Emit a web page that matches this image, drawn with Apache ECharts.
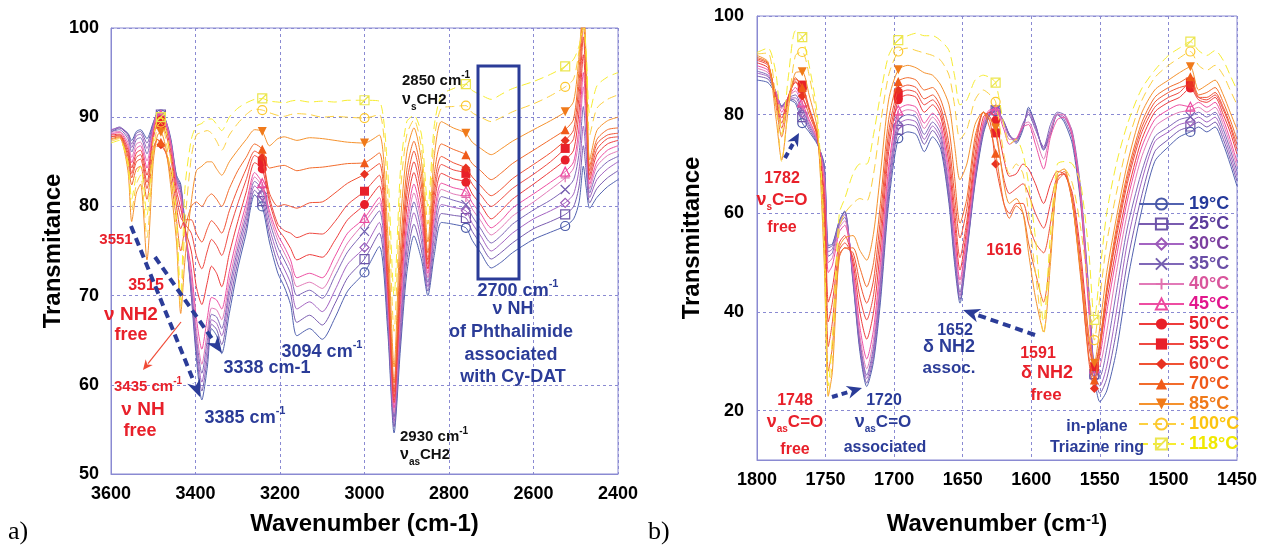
<!DOCTYPE html>
<html><head><meta charset="utf-8">
<script src="https://cdn.jsdelivr.net/npm/echarts@6/dist/echarts.min.js"></script>
<style>html,body{margin:0;padding:0;background:#fff}#c{width:1261px;height:548px}</style>
</head><body><div id="c"></div>
<script>
// ---------------- DATA ----------------
const TEMPS = ['19°C','25°C','30°C','35°C','40°C','45°C','50°C','55°C','60°C','70°C','85°C','100°C','118°C'];

// Panel a) wavenumbers (cm-1)
const L_X = [3600,3580,3560,3551,3540,3530,3515,3500,3490,3482,3470,3458,3445,3435,3425,3410,3398,3385,3372,3362,3350,3338,3320,3300,3280,3260,3242,3225,3205,3190,3175,3160,3130,3100,3070,3040,3000,2965,2945,2930,2915,2900,2883,2865,2850,2835,2818,2790,2760,2745,2725,2700,2675,2650,2600,2560,2525,2505,2492,2482,2475,2467,2450,2425,2400];
const L_MARKS = [3482,3242,3000,2760,2525];

const L19 = [88.3,88.8,88.2,87.4,88.4,88.6,87.6,89.4,90.4,90.3,89.6,87.5,83.5,82.5,78.0,70.0,63.0,58.3,62.0,66.3,65.5,63.5,68.0,73.0,77.0,81.3,80.0,76.0,72.5,71.0,69.0,65.5,66.3,65.1,67.5,70.5,72.6,75.5,66.0,54.6,64.0,72.5,76.7,74.0,70.0,74.5,78.2,78.0,77.6,76.2,74.8,73.1,73.8,74.8,76.3,77.1,77.8,78.6,80.5,84.5,82.0,79.8,81.0,82.2,83.0];
const L25 = [88.5,88.9,88.1,87.0,88.2,88.4,87.1,89.3,90.4,90.3,89.5,87.3,83.3,82.2,77.8,70.4,63.8,59.3,63.0,66.8,66.2,64.5,69.0,73.8,77.7,81.8,80.6,76.8,73.5,72.0,70.2,67.0,67.8,66.7,69.1,72.0,74.1,77.0,67.0,55.3,65.0,73.8,78.0,75.0,70.5,75.5,79.2,79.0,78.7,77.2,75.8,74.1,74.9,75.9,77.5,78.3,79.1,80.0,82.3,86.8,83.8,80.4,82.0,83.2,84.0];
const L30 = [88.6,88.8,87.9,86.6,87.9,88.1,86.5,89.1,90.3,90.2,89.4,87.1,83.1,81.9,77.5,70.8,64.6,60.3,64.0,67.3,66.9,65.5,70.0,74.6,78.4,82.3,81.2,77.6,74.5,73.0,71.4,68.5,69.3,68.2,70.6,73.5,75.4,78.2,67.8,55.9,66.0,75.0,79.3,76.0,71.0,76.5,80.2,79.9,79.5,78.1,76.7,75.0,75.9,77.0,78.6,79.5,80.4,81.4,84.2,89.0,85.5,81.0,83.0,84.2,85.0];
const L35 = [88.4,88.6,87.6,86.1,87.5,87.7,85.9,88.9,90.2,90.1,89.3,86.9,82.9,81.6,77.3,71.3,65.4,61.3,65.0,67.9,67.6,66.3,70.8,75.3,79.0,82.8,81.9,78.4,75.4,74.0,72.5,70.0,70.6,69.7,72.2,74.9,77.2,79.5,68.6,56.4,67.0,76.2,80.5,77.0,71.5,77.5,81.1,80.7,80.2,78.9,77.5,75.9,76.8,78.0,79.6,80.7,81.9,83.0,86.0,91.2,87.2,81.5,83.8,85.0,85.6];
const L40 = [88.3,88.4,87.2,85.5,87.0,87.2,85.1,88.7,90.4,90.3,89.5,87.0,82.7,81.2,77.2,72.0,66.3,62.3,66.0,68.6,68.4,67.3,71.7,76.0,79.6,83.3,82.2,79.0,76.2,74.8,73.3,71.0,71.5,70.8,73.2,75.9,78.2,80.4,69.3,56.9,68.0,77.3,81.5,78.0,72.0,78.3,81.9,81.4,81.0,79.7,78.4,76.8,77.7,78.9,80.5,81.9,83.2,84.3,87.8,93.4,88.8,82.0,84.5,85.7,86.2];
const L45 = [88.1,88.3,86.8,84.9,86.5,86.8,84.3,88.5,90.3,90.2,89.4,86.8,82.5,80.8,77.2,73.0,67.5,64.0,67.5,69.8,69.5,68.5,72.7,76.8,80.3,83.8,82.6,79.5,76.8,75.5,74.0,72.0,72.5,72.0,74.4,77.0,78.7,81.0,70.0,57.4,69.0,78.3,82.5,78.8,72.5,79.0,82.6,82.1,81.7,80.4,79.2,77.6,78.5,79.8,81.4,82.7,83.9,85.0,89.0,95.0,90.0,82.5,85.0,86.3,86.8];
const L50 = [88.0,88.1,86.4,84.3,86.0,86.3,83.5,88.0,89.8,89.7,88.8,86.0,81.8,79.8,77.5,75.0,71.0,69.0,71.5,73.3,72.5,71.0,74.7,78.3,81.6,84.9,84.2,80.5,77.5,76.5,75.3,74.0,74.6,74.3,76.2,78.5,80.2,82.3,71.0,58.0,70.5,79.8,83.8,80.0,73.0,80.2,83.7,83.1,82.7,81.4,80.2,78.6,79.6,80.8,82.5,83.9,85.2,86.3,90.8,97.0,91.5,83.0,85.8,87.0,87.4];
const L55 = [87.8,88.0,86.0,83.7,85.5,85.8,82.7,87.5,89.3,89.2,88.2,85.3,81.0,78.8,78.0,77.0,74.5,73.0,75.0,76.3,75.6,74.5,77.3,80.3,83.0,85.7,85.0,81.0,78.0,77.3,77.0,76.5,77.0,76.9,78.3,80.2,81.7,83.5,72.0,58.6,72.0,81.2,85.0,81.2,73.5,81.2,84.7,84.1,83.7,82.5,81.3,80.0,80.9,82.0,83.6,85.0,86.5,87.6,92.5,99.0,93.0,83.5,86.4,87.6,87.8];
const L60 = [87.8,87.9,85.6,83.2,85.0,85.3,82.0,86.5,87.5,86.9,86.0,84.0,80.0,77.5,78.5,78.5,77.0,76.0,77.5,78.4,77.8,77.0,79.5,82.0,84.2,86.2,85.5,81.5,80.0,80.2,80.0,79.8,80.4,80.5,81.5,82.6,83.6,84.8,73.0,59.2,73.0,82.5,86.2,82.3,74.0,82.2,85.6,84.9,84.3,83.3,82.3,81.2,82.0,83.1,84.7,86.0,87.4,88.6,94.0,100.5,94.0,84.0,87.0,88.0,88.2];
const L70 = [87.6,87.8,85.0,82.4,84.2,84.5,80.8,86.0,87.5,87.2,86.0,83.0,78.5,75.0,77.5,80.0,80.5,80.0,81.0,81.4,80.8,80.0,82.0,84.0,85.5,87.0,86.4,84.3,84.5,84.6,84.3,84.0,84.3,84.4,84.6,84.8,84.9,86.0,74.5,60.2,75.0,84.0,87.3,83.5,74.8,83.5,87.0,86.4,85.8,84.8,84.0,83.0,83.8,84.8,86.3,87.5,88.6,89.8,95.5,102,95.0,84.5,87.5,88.6,88.8];
const L85 = [87.5,87.7,84.0,78.3,81.5,82.5,74.0,85.0,88.0,88.3,86.5,82.0,76.0,68.0,74.0,80.5,84.0,84.5,85.0,85.0,84.2,83.5,85.0,86.3,87.5,88.6,88.4,86.8,87.6,87.8,87.6,87.4,87.7,87.6,87.4,87.2,87.1,88.0,77.0,62.0,78.0,86.0,88.8,85.0,76.0,85.5,89.5,88.8,88.2,87.2,86.5,85.8,86.5,87.3,88.6,89.6,90.6,91.8,97.0,103,96.0,85.2,88.5,89.6,90.0];
const L100 = [87.3,87.6,84.5,79.5,82.5,83.5,76.5,86.0,89.0,89.4,87.5,83.0,77.0,68.5,78.0,85.5,88.0,88.3,88.5,88.2,87.3,86.3,88.0,89.3,90.3,90.9,90.8,90.5,90.2,90.1,90.3,90.4,90.3,90.0,90.1,90.0,89.9,90.3,81.0,66.0,81.5,88.0,89.7,86.5,78.0,87.5,91.0,91.2,91.3,90.5,90.0,89.5,90.0,90.6,91.5,92.4,93.4,94.3,97.5,101,96.5,88.0,91.0,92.0,92.5];
const L118 = [87.1,87.4,85.0,80.8,83.5,84.5,79.0,87.5,89.8,90.0,88.5,85.0,79.0,69.5,82.0,87.5,89.0,89.3,89.8,89.8,89.2,88.5,90.0,91.0,91.6,92.0,92.1,91.8,91.7,91.6,91.8,91.9,91.7,91.8,91.7,91.9,91.9,91.8,84.0,70.0,84.0,89.5,90.2,88.0,80.0,89.0,92.5,93.2,93.7,93.0,92.5,92.0,92.6,93.2,94.0,94.8,95.7,96.5,98.0,100,97.0,90.5,93.5,94.5,95.0];

// Panel b) wavenumbers (cm-1)
const R_X = [1800,1792,1786,1782,1777,1772,1767,1762,1756,1751,1748,1745,1740,1736,1730,1725,1720,1715,1710,1704,1697,1690,1684,1678,1672,1666,1660,1656,1652,1647,1641,1635,1630,1626,1620,1616,1611,1606,1602,1597,1591,1586,1581,1576,1570,1564,1558,1554,1550,1545,1538,1530,1520,1510,1500,1492,1484,1478,1472,1466,1460,1455,1450];
const R_MARKS = [1767,1697,1626,1554,1484];

const R19 = [87.0,86.5,84.0,81.8,83.0,82.3,78.3,76.5,74.0,70.0,53.5,53.8,58.5,60.5,46.0,32.0,24.9,30.0,42.0,62.0,75.2,76.5,76.0,72.5,75.5,73.0,62.0,50.0,41.8,52.0,66.0,76.0,80.0,80.7,78.5,76.0,74.2,77.0,81.5,78.0,72.8,76.0,80.0,78.5,74.0,62.0,42.0,27.0,21.8,24.0,32.0,46.0,60.0,70.5,73.5,75.5,76.5,77.5,76.5,77.5,74.0,70.0,65.5];
const R25 = [87.8,87.2,84.3,81.7,83.2,82.8,79.5,77.0,74.2,69.5,53.0,53.5,58.3,60.3,46.5,32.8,25.6,31.0,43.5,63.5,76.9,78.0,77.5,74.0,76.8,74.0,63.0,51.0,42.5,52.5,66.5,76.5,80.2,80.9,78.6,76.0,74.5,77.5,81.0,78.0,73.0,76.5,80.0,79.0,75.0,63.0,43.0,27.4,23.5,26.5,36.0,50.0,63.0,72.5,75.0,76.8,77.6,78.5,77.5,78.5,75.0,71.0,66.5];
const R30 = [88.4,87.7,84.5,81.6,83.3,83.4,80.3,77.5,74.4,69.0,52.2,52.8,58.0,59.8,47.0,33.5,26.5,32.0,45.0,65.0,77.9,79.0,78.5,75.0,77.7,75.0,64.0,52.0,43.3,53.0,67.0,77.0,80.4,81.0,78.6,75.8,74.8,78.0,80.5,77.5,73.2,77.0,80.2,79.5,76.0,64.0,44.0,27.8,25.0,29.0,40.0,54.0,66.0,74.5,76.5,78.0,78.6,79.5,78.5,79.5,76.0,72.0,67.5];
const R35 = [88.8,88.0,84.5,81.5,83.4,84.0,81.0,78.0,74.6,68.5,51.3,52.0,57.6,59.2,47.5,34.2,27.2,33.0,46.5,66.5,78.9,80.0,79.5,76.0,78.5,76.0,65.0,53.0,44.0,53.5,67.5,77.5,80.6,81.0,78.5,75.6,75.0,78.3,80.0,77.0,73.5,78.0,80.5,80.0,76.5,65.0,44.0,28.0,27.0,32.5,44.0,57.0,68.0,75.5,77.5,79.0,79.6,80.5,79.5,80.5,77.0,73.0,68.5];
const R40 = [89.4,88.5,84.4,81.2,83.6,84.8,81.8,78.5,74.8,67.5,50.0,51.0,57.0,58.5,48.0,35.3,28.5,34.5,48.0,68.0,79.9,81.0,80.5,77.2,79.5,77.0,66.5,54.5,45.5,54.5,68.5,78.0,80.8,81.0,78.0,75.0,75.2,78.0,78.5,75.5,71.0,76.5,80.0,80.0,76.0,64.0,42.0,28.4,29.0,36.0,48.0,60.0,71.0,77.5,79.5,80.5,80.9,81.5,80.5,81.5,78.0,74.0,69.5];
const R45 = [89.9,89.0,84.0,80.5,83.6,85.5,82.5,79.0,75.0,66.5,48.0,49.5,56.2,57.6,48.8,37.0,30.5,36.5,50.0,69.5,80.9,82.0,81.5,78.3,80.3,78.0,68.0,56.0,46.5,55.5,69.0,78.5,81.0,81.0,77.0,74.0,75.0,77.5,78.0,74.0,69.0,75.5,79.0,79.5,75.5,63.0,40.0,28.6,31.0,40.0,51.0,62.5,73.0,79.0,81.0,82.0,81.6,82.5,81.5,82.5,79.0,75.0,70.5];
const R50 = [90.5,89.5,83.5,79.3,83.8,86.5,85.2,81.0,75.5,64.0,42.0,45.0,54.0,55.5,50.0,40.0,34.5,40.0,53.0,72.5,83.0,84.0,83.5,80.5,82.0,79.5,70.0,58.5,48.5,57.0,70.5,79.5,80.5,78.8,71.0,67.5,68.0,70.0,69.0,66.0,62.0,66.0,68.5,68.0,64.0,52.0,35.0,29.0,33.0,42.0,53.0,64.0,74.5,80.5,82.5,83.5,85.4,83.0,82.5,83.5,80.0,76.5,72.0];
const R55 = [91.0,90.0,83.0,78.3,83.8,87.2,86.0,81.5,76.0,62.0,38.0,42.0,52.5,54.0,51.0,43.0,38.4,43.5,56.0,74.5,84.0,85.0,84.5,82.0,83.0,80.5,72.0,61.0,51.0,58.5,72.0,80.5,79.5,76.3,67.0,64.0,65.0,66.0,64.0,60.0,57.0,62.0,67.5,68.0,63.0,50.0,33.0,28.9,34.0,44.0,55.0,66.0,76.0,81.5,83.5,84.5,86.6,83.5,83.0,84.0,81.0,77.5,73.0];
const R60 = [91.3,90.3,82.5,77.3,83.6,86.8,83.8,80.0,75.5,60.0,33.0,38.0,51.5,53.0,52.0,46.0,41.8,46.5,59.0,76.5,85.0,86.0,85.5,83.2,84.0,81.5,74.0,64.0,55.0,61.0,74.0,80.5,78.5,70.0,62.0,60.0,62.0,62.0,58.0,54.0,52.0,58.0,66.5,68.0,62.0,48.0,30.0,24.5,32.0,44.0,56.0,67.0,77.0,82.5,84.5,85.5,86.0,83.5,83.5,84.5,81.5,78.0,74.0];
const R70 = [91.6,90.5,81.5,75.5,83.0,87.5,85.5,81.0,76.0,56.0,28.0,33.0,51.0,53.0,53.0,49.0,45.1,50.0,62.0,79.0,86.7,87.5,87.0,85.0,85.5,83.0,77.0,67.5,58.0,63.0,75.5,80.5,77.0,72.2,62.0,59.0,61.5,60.0,54.0,48.0,42.0,52.0,67.0,68.5,62.0,47.0,31.0,26.2,33.5,45.0,57.0,68.0,78.0,83.5,85.5,86.5,87.7,84.0,84.5,85.5,82.5,79.0,75.0];
const R85 = [92.0,90.7,79.0,70.8,81.5,88.5,88.7,84.0,77.0,50.0,23.0,28.0,53.0,55.0,55.5,52.5,50.5,56.0,68.0,83.0,89.1,90.0,89.5,88.5,88.0,86.0,82.0,74.0,66.8,70.0,78.0,80.5,79.0,77.3,66.0,62.0,63.0,60.0,52.0,43.0,36.0,50.0,68.0,69.0,62.0,48.0,35.0,29.6,37.0,48.0,59.0,70.0,80.0,85.0,87.0,88.5,89.7,85.0,86.0,87.0,84.0,80.5,77.0];
const R100 = [92.3,92.5,82.0,70.5,82.0,92.0,92.7,88.0,78.0,52.0,22.8,30.0,57.0,60.0,62.0,63.0,62.5,68.0,78.0,88.0,92.8,93.5,93.0,92.5,92.0,91.0,88.0,82.0,75.0,77.0,83.0,85.0,84.0,82.6,72.0,68.0,70.0,68.0,60.0,48.0,35.5,52.0,68.0,69.0,66.0,57.0,44.0,34.3,43.0,54.0,64.0,74.0,82.5,87.5,90.0,91.5,92.8,90.0,89.0,90.0,88.0,85.0,82.0];
const R118 = [92.6,93.5,88.0,76.0,88.0,97.0,95.7,90.0,80.0,56.0,25.0,35.0,60.0,63.0,68.0,70.0,70.0,76.0,84.0,92.0,95.1,96.0,96.5,96.0,96.0,95.0,93.0,88.0,82.0,83.0,87.0,88.0,87.5,86.5,78.0,74.0,75.0,72.0,66.0,55.0,38.0,56.0,70.0,70.5,70.0,66.0,52.0,38.4,48.0,60.0,70.0,78.0,85.0,89.0,92.0,93.5,94.8,93.0,92.0,93.0,91.0,88.0,85.0];

const L_VALUES = [L19,L25,L30,L35,L40,L45,L50,L55,L60,L70,L85,L100,L118];
const R_VALUES = [R19,R25,R30,R35,R40,R45,R50,R55,R60,R70,R85,R100,R118];

// ---------------- STYLE ----------------
const FONT = '"Liberation Sans", Arial, Helvetica, sans-serif';
const RED = '#e8202a', BLUE = '#2b3c98', GRID = '#8a8ad2';
const P_X = 'path://M0,0L10,10M10,0L0,10';
const P_PLUS = 'path://M5,0L5,10M0,5L10,5';
const P_BOXX = 'path://M0,0L10,0L10,10L0,10ZM0,10L10,0';
const STYLES = [
  {line:'#5262b0', mark:'#4a5aa8', text:'#24399a', symbol:'circle', hollow:true},
  {line:'#7a5cb0', mark:'#6c55a8', text:'#5c3d9c', symbol:'rect', hollow:true},
  {line:'#a464c2', mark:'#9a5ab8', text:'#7b3f9f', symbol:'diamond', hollow:true},
  {line:'#8068b8', mark:'#7560b0', text:'#6a4ea6', symbol:P_X, hollow:true},
  {line:'#e27ab8', mark:'#e070b0', text:'#d9559c', symbol:P_PLUS, hollow:true},
  {line:'#ee4ea2', mark:'#ec4aa0', text:'#e2168c', symbol:'triangle', hollow:true},
  {line:'#ee3c3c', mark:'#e8202a', text:'#e8202a', symbol:'circle'},
  {line:'#ef4a42', mark:'#e8202a', text:'#e8202a', symbol:'rect'},
  {line:'#f05234', mark:'#e83222', text:'#e8302a', symbol:'diamond'},
  {line:'#f26c2c', mark:'#f05a1a', text:'#f0581a', symbol:'triangle'},
  {line:'#f5922e', mark:'#f07a1a', text:'#f07a1a', symbol:'triangle', rot:180},
  {line:'#fcd040', mark:'#fcc830', text:'#fcc40e', symbol:'circle', hollow:true, dash:true},
  {line:'#f6ec30', mark:'#ece650', text:'#f0e800', symbol:P_BOXX, hollow:true, dash:true}
];

function mkSeries(xs, vals, marks, idx, k) {
  const st = STYLES[k];
  return {
    type:'line', name:TEMPS[k], xAxisIndex:idx, yAxisIndex:idx,
    data: xs.map((x,i) => marks.includes(x) ? [x, vals[i]] : {value:[x, vals[i]], symbol:'none'}),
    showSymbol:true, showAllSymbol:true, symbol:st.symbol, symbolRotate:st.rot||0, symbolSize:9,
    smooth:0.25,
    lineStyle:{color:st.line, width:1, type: st.dash ? [9,5] : 'solid'},
    itemStyle: st.hollow ? {color:'rgba(255,255,255,0)', borderColor:st.mark, borderWidth:1.2}
                         : {color:st.mark, borderColor:st.mark, borderWidth:0},
    clip:true, silent:true, animation:false, emphasis:{disabled:true}, z:2+k*0.01
  };
}

const series = [];
for (let k=0;k<13;k++) series.push(mkSeries(L_X, L_VALUES[k], L_MARKS, 0, k));
for (let k=0;k<13;k++) series.push(mkSeries(R_X, R_VALUES[k], R_MARKS, 1, k));

// ---------------- ANNOTATIONS ----------------
const cv = document.createElement('canvas').getContext('2d');
function tw(t, size){ cv.font = 'bold '+size+'px '+FONT; return cv.measureText(t).width; }
function label(x, y, parts, color, align) {
  const widths = parts.map(p => tw(p[0], p[1]));
  const total = widths.reduce((a,b)=>a+b,0);
  let cx = align === 'left' ? x : x - total/2;
  const out = [];
  parts.forEach((p,i) => {
    out.push({type:'text', x:cx, y:y+(p[2]||0), z:50, silent:true,
      style:{text:p[0], fill:color, font:'bold '+p[1]+'px '+FONT, align:'left', verticalAlign:'middle'}});
    cx += widths[i];
  });
  return out;
}
function arrow(x1,y1,x2,y2,color,width,dash,hl,hw){
  const dx=x2-x1, dy=y2-y1, L=Math.hypot(dx,dy), ux=dx/L, uy=dy/L;
  const bx=x2-ux*hl, by=y2-uy*hl;
  return [
    {type:'line', z:50, silent:true, shape:{x1:x1,y1:y1,x2:bx+ux*2,y2:by+uy*2},
     style:{stroke:color, lineWidth:width, lineDash:dash||null}},
    {type:'polygon', z:50, silent:true, shape:{points:[[x2,y2],[bx-uy*hw,by+ux*hw],[bx+ux*hl*0.3,by+uy*hl*0.3],[bx+uy*hw,by-ux*hw]]},
     style:{fill:color}}
  ];
}
let G = [];
// panel a
G = G.concat(
  label(116,240,[['3551',15,0]],RED),
  label(146,286,[['3515',16,0]],RED),
  label(131,315,[['ν NH2',19,0]],RED),
  label(131,335,[['free',18,0]],RED),
  label(148,387,[['3435 cm',15,0],['-1',10,-6]],RED),
  label(143,410,[['ν NH',19,0]],RED),
  label(140,431,[['free',18,0]],RED),
  label(245,418,[['3385 cm',18,0],['-1',11,-7]],BLUE),
  label(267,368,[['3338 cm-1',18,0]],BLUE),
  label(322,352,[['3094 cm',18,0],['-1',11,-7]],BLUE),
  label(400,437,[['2930 cm',15,0],['-1',10,-6]],'#111','left'),
  label(400,455,[['ν',16,0],['as',10,7],['CH2',15,0]],'#111','left'),
  label(402,81,[['2850 cm',15,0],['-1',10,-6]],'#111','left'),
  label(402,100,[['ν',16,0],['s',10,7],['CH2',15,0]],'#111','left'),
  label(518,291,[['2700 cm',18,0],['-1',11,-7]],BLUE),
  label(513,309,[['ν NH',18,0]],BLUE),
  label(511,332,[['of Phthalimide',18,0]],BLUE),
  label(511,355,[['associated',18,0]],BLUE),
  label(513,377,[['with Cy-DAT',18,0]],BLUE),
  arrow(131,226,200,397,BLUE,4,[8,5],17,7),
  arrow(155,257,222,353,BLUE,4,[8,5],17,7),
  arrow(181,322,143,370,'#f04a36',1.2,null,10,4.5)
);
G.push({type:'rect', z:49, silent:true, shape:{x:478,y:66,width:41,height:213}, style:{fill:'none', stroke:BLUE, lineWidth:3}});
// panel b
G = G.concat(
  label(782,179,[['1782',16,0]],RED),
  label(782,200,[['ν',18,0],['s',10,7],['C=O',17,0]],RED),
  label(782,228,[['free',16,0]],RED),
  label(1004,251,[['1616',16,0]],RED),
  label(795,401,[['1748',16,0]],RED),
  label(795,422,[['ν',18,0],['as',10,7],['C=O',17,0]],RED),
  label(795,450,[['free',16,0]],RED),
  label(884,401,[['1720',16,0]],BLUE),
  label(883,422,[['ν',18,0],['as',10,7],['C=O',17,0]],BLUE),
  label(885,448,[['associated',16,0]],BLUE),
  label(955,331,[['1652',16,0]],BLUE),
  label(949,347,[['δ NH2',18,0]],BLUE),
  label(949,368,[['assoc.',17,0]],BLUE),
  label(1038,354,[['1591',16,0]],RED),
  label(1047,373,[['δ NH2',18,0]],RED),
  label(1046,395,[['free',17,0]],RED),
  label(1097,427,[['in-plane',16,0]],BLUE),
  label(1097,448,[['Triazine ring',16,0]],BLUE),
  arrow(785,158,799,133,BLUE,4,[6,4],13,6),
  arrow(832,397,862,388,BLUE,4,[6,4],15,6.5),
  arrow(1035,335,963,310,BLUE,4,[8,5],17,7)
);
G.push({type:'text', left:8, top:519, z:50, silent:true, style:{text:'a)', fill:'#000', font:'26px "Liberation Serif", "Times New Roman", serif'}});
G.push({type:'text', left:648, top:519, z:50, silent:true, style:{text:'b)', fill:'#000', font:'26px "Liberation Serif", "Times New Roman", serif'}});

// ---------------- CHART ----------------
const plain = v => String(v);
const axisLbl = {color:'#000', fontSize:18, fontWeight:'bold', fontFamily:FONT, formatter:plain};
const splitL = {show:true, lineStyle:{color:GRID, type:[3,3], width:1}};
const nameStyle = {color:'#000', fontSize:24, fontWeight:'bold', fontFamily:FONT};
const chart = echarts.init(document.getElementById('c'), null, {renderer:'canvas'});
chart.setOption({
  animation:false,
  backgroundColor:'#fff',
  grid:[
    {left:111, top:28, width:507, height:446, show:true, borderColor:GRID, borderWidth:1, backgroundColor:'rgba(0,0,0,0)', containLabel:false, outerBoundsMode:'none'},
    {left:757, top:16, width:480, height:444, show:true, borderColor:GRID, borderWidth:1, backgroundColor:'rgba(0,0,0,0)', containLabel:false, outerBoundsMode:'none'}
  ],
  xAxis:[
    {type:'value', gridIndex:0, min:2400, max:3600, interval:200, inverse:true,
     axisLine:{show:true, onZero:false, lineStyle:{color:GRID}}, axisTick:{show:false},
     axisLabel:Object.assign({margin:11}, axisLbl), splitLine:splitL,
     name:'Wavenumber (cm-1)', nameLocation:'middle', nameGap:38, nameTextStyle:nameStyle},
    {type:'value', gridIndex:1, min:1450, max:1800, interval:50, inverse:true,
     axisLine:{show:true, onZero:false, lineStyle:{color:GRID}}, axisTick:{show:false},
     axisLabel:Object.assign({margin:11}, axisLbl), splitLine:splitL,
     name:'Wavenumber (cm{s|-1})', nameLocation:'middle', nameGap:52,
     nameTextStyle:Object.assign({rich:{s:{fontSize:15, fontWeight:'bold', fontFamily:FONT, color:'#000', verticalAlign:'top'}}}, nameStyle)}
  ],
  yAxis:[
    {type:'value', gridIndex:0, min:50, max:100, interval:10,
     axisLine:{show:true, onZero:false, lineStyle:{color:GRID}}, axisTick:{show:false},
     axisLabel:Object.assign({margin:12}, axisLbl), splitLine:splitL,
     name:'Transmitance', nameLocation:'middle', nameGap:45, nameTextStyle:nameStyle},
    {type:'value', gridIndex:1, min:10, max:100, splitNumber:5,
     axisLine:{show:true, onZero:false, lineStyle:{color:GRID}}, axisTick:{show:false},
     axisLabel:Object.assign({margin:13, showMinLabel:false}, axisLbl), splitLine:splitL,
     name:'Transmittance', nameLocation:'middle', nameGap:53, nameTextStyle:nameStyle}
  ],
  legend:{show:true, orient:'vertical', left:1138, top:195, padding:0, itemWidth:45, itemHeight:14, itemGap:2,
    selectedMode:false, data:TEMPS.map((n,k)=>({name:n, textStyle:{color:STYLES[k].text}})),
    textStyle:{fontSize:18, fontWeight:'bold', fontFamily:FONT}},
  series: series,
  graphic: G
});
</script></body></html>
